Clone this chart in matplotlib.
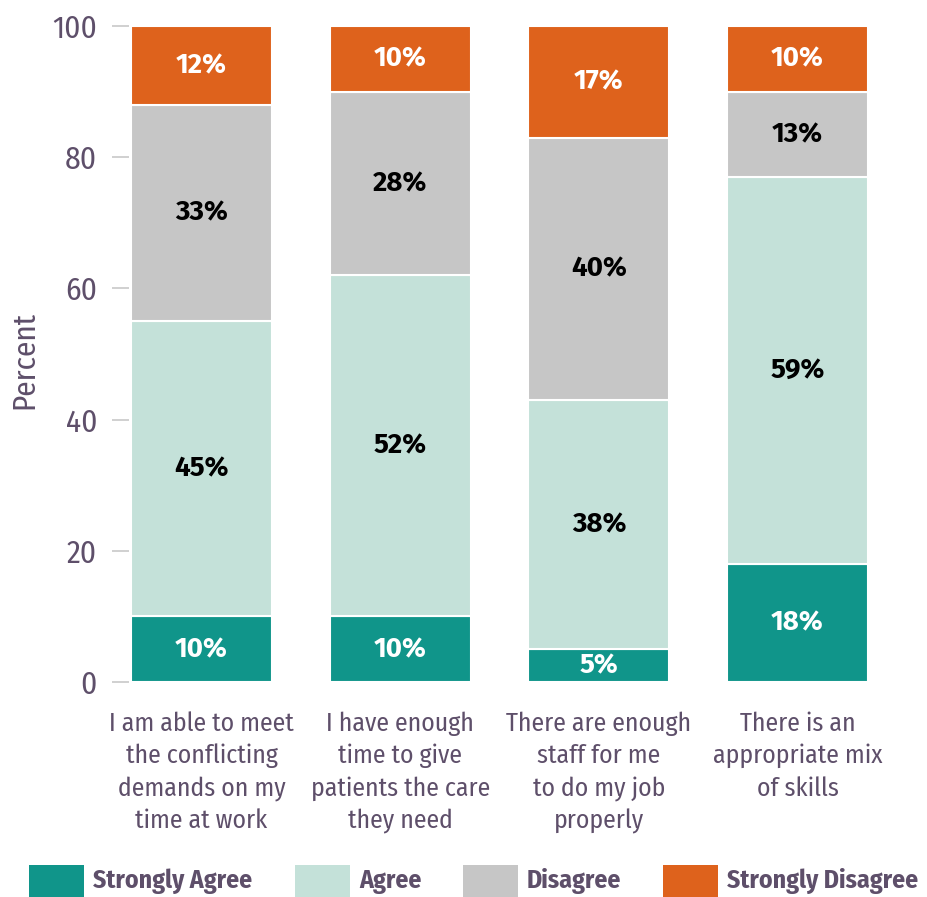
import matplotlib
matplotlib.use('Agg')
import matplotlib.pyplot as plt
from matplotlib.patches import Rectangle
from matplotlib import font_manager

# survey responses, percent of staff
questions = ['I am able to meet\nthe conflicting\ndemands on my\ntime at work',
             'I have enough\ntime to give\npatients the care\nthey need',
             'There are enough\nstaff for me\nto do my job\nproperly',
             'There is an\nappropriate mix\nof skills']
strongly_agree = [10, 10, 5, 18]
agree = [45, 52, 38, 59]
disagree = [33, 28, 40, 13]
strongly_disagree = [12, 10, 17, 10]
series_names = ['Strongly Agree', 'Agree', 'Disagree', 'Strongly Disagree']
yticks = [0, 20, 40, 60, 80, 100]

colors = ['#10958a', '#c4e1d9', '#c6c6c6', '#de621c']
label_colors = ['white', 'black', 'black', 'white']
text_col = '#5e4f6a'

# narrow humanist face if there is one, else plain Liberation Sans a bit smaller
names = {f.name for f in font_manager.fontManager.ttflist}
fam, k = 'Liberation Sans', 0.93
for cand in ['Fira Sans Condensed', 'Roboto Condensed', 'Open Sans Condensed']:
    if cand in names:
        fam, k = cand, 1.0
        break
# wider face for the numbers inside the bars
num_fam = 'Fira Sans' if 'Fira Sans' in names else fam
plt.rcParams['font.family'] = [fam, 'DejaVu Sans']

fig = plt.figure(figsize=(9.28, 8.97), dpi=100)
W, H = 928, 897
ax = fig.add_axes([129 / W, 215 / H, 741 / W, 656 / H])

x = list(range(len(questions)))
bottom = [0] * len(questions)
for vals, col, lcol in zip([strongly_agree, agree, disagree, strongly_disagree], colors, label_colors):
    ax.bar(x, vals, width=0.71, bottom=bottom, color=col, edgecolor='white', linewidth=1.5)
    for xi, v, b in zip(x, vals, bottom):
        ax.text(xi, b + v / 2, '%d%%' % v, ha='center', va='center',
                fontsize=20 * k, fontweight='bold', color=lcol,
                family=[num_fam, 'DejaVu Sans'])
    bottom = [b + v for b, v in zip(bottom, vals)]

ax.set_xlim(-0.365, 3.365)
ax.set_ylim(0, 100)
ax.set_yticks(yticks)
ax.set_yticklabels([str(t) for t in yticks], fontsize=22.5 * k, color=text_col)
ax.tick_params(axis='y', length=12, width=1.2, color='#c8c8c8', pad=11)
ax.set_xticks(x)
ax.set_xticklabels(questions, fontsize=18.5 * k, color=text_col, linespacing=1.38)
ax.tick_params(axis='x', length=0, pad=21)
for s in ax.spines.values():
    s.set_visible(False)
fig.text(25 / W, 1 - 360 / H, 'Percent', rotation=90, ha='center', va='center',
         fontsize=22.5 * k, color=text_col)

# legend row along the bottom edge
patch_x = [29, 295, 463, 663]
for px, col, name in zip(patch_x, colors, series_names):
    fig.add_artist(Rectangle((px / W, 0), 55 / W, 32 / H, transform=fig.transFigure,
                             facecolor=col, edgecolor='none'))
    fig.text((px + 64) / W, 3 / H, name, ha='left', va='bottom', fontsize=18.5 * k,
             fontweight='bold', color=text_col)

fig.savefig('out.png', dpi=100)
